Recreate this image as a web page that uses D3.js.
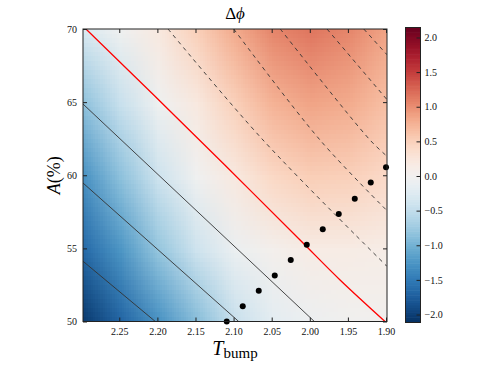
<!DOCTYPE html>
<html>
<head>
<meta charset="utf-8">
<script src="https://cdn.jsdelivr.net/npm/d3@7"></script>
<style>
	body { margin: 0; background: #fff; }
	svg { display: block; font-family: "Liberation Serif", "DejaVu Serif", serif; }
</style>
</head>
<body>
<div id="chart"></div>
<script>
// tick labels
const xTicks = [2.25, 2.20, 2.15, 2.10, 2.05, 2.00, 1.95, 1.90]
const yTicks = [50, 55, 60, 65, 70]
const cbTicks = [-2.0, -1.5, -1.0, -0.5, 0.0, 0.5, 1.0, 1.5, 2.0]

// delta phi, rows = A (top to bottom), cols = T_bump
const gridT = [2.30, 2.25, 2.20, 2.15, 2.10, 2.05, 2.00, 1.95, 1.90]
const gridA = [70, 65, 60, 55, 50]
const dphi = [
	[-0.3, -0.05, 0.2, 0.5, 0.8, 1.05, 1.15, 1.05, 0.85],
	[-0.85, -0.45, -0.05, 0.2, 0.5, 0.75, 0.85, 0.8, 0.65],
	[-1.3, -0.85, -0.4, -0.03, 0.2, 0.42, 0.52, 0.5, 0.4],
	[-1.65, -1.25, -0.8, -0.4, -0.1, 0.05, 0.15, 0.15, 0.12],
	[-2.05, -1.7, -1.3, -0.9, -0.45, -0.2, -0.08, -0.02, 0.0]
]
const cMin = -2.115
const cMax = 2.144

// black points
const dotT = [2.109, 2.088, 2.067, 2.046, 2.025, 2.004, 1.983, 1.962, 1.941, 1.920, 1.900]
const dotA = [50.0, 51.05, 52.1, 53.15, 54.2, 55.25, 56.3, 57.35, 58.4, 59.5, 60.55]

// contour lines as [T, A] points
const redLine = [[2.2937, 70.0], [2.2031, 65.4], [2.1112, 60.68], [2.0128, 55.57], [1.9603, 52.84], [1.9013, 50.0]]
const solidLines = [
	[[2.2976, 64.87], [1.994, 50.0]],
	[[2.2976, 59.47], [2.0933, 50.0]],
	[[2.2976, 54.12], [2.2027, 50.0]]
]
const dashedLines = [
	[[2.186, 70.0], [2.0614, 62.41], [1.8987, 53.77]],
	[[2.0998, 70.0], [1.9866, 62.41], [1.8987, 57.58]],
	[[2.0387, 70.0], [1.921, 62.41], [1.8987, 61.3]],
	[[1.9774, 70.0], [1.8987, 65.17]],
	[[1.9292, 70.0], [1.8987, 68.24]]
]

const W = 491
const H = 368
const pLeft = 83, pRight = 387, pTop = 29, pBottom = 321.5

const svg = d3.select("#chart").append("svg").attr("width", W).attr("height", H)

const x = d3.scaleLinear().domain([2.2976, 1.8987]).range([pLeft, pRight])
const y = d3.scaleLinear().domain([50, 70]).range([pBottom, pTop])
const color = d3.scaleSequential(d3.interpolateRdBu).domain([cMax, cMin])

svg.append("clipPath").attr("id", "plotclip")
	.append("rect").attr("x", pLeft).attr("y", pTop).attr("width", pRight - pLeft).attr("height", pBottom - pTop)

// heatmap: one pixel per grid value, smoothed by the browser when scaled up
const canvas = document.createElement("canvas")
canvas.width = gridT.length
canvas.height = gridA.length
const ctx = canvas.getContext("2d")
dphi.forEach((row, j) => {
	row.forEach((v, i) => {
		ctx.fillStyle = color(v)
		ctx.fillRect(i, j, 1, 1)
	})
})
const cw = Math.abs(x(gridT[1]) - x(gridT[0]))
const ch = Math.abs(y(gridA[1]) - y(gridA[0]))
svg.append("g").attr("clip-path", "url(#plotclip)")
	.append("image")
	.attr("href", canvas.toDataURL())
	.attr("x", x(gridT[0]) - cw / 2)
	.attr("y", y(gridA[0]) - ch / 2)
	.attr("width", cw * gridT.length)
	.attr("height", ch * gridA.length)
	.attr("preserveAspectRatio", "none")

const line = d3.line().x(d => x(d[0])).y(d => y(d[1])).curve(d3.curveCatmullRom)

const lines = svg.append("g").attr("clip-path", "url(#plotclip)").attr("fill", "none")
lines.selectAll("path.solid").data(solidLines).enter().append("path")
	.attr("class", "solid")
	.attr("d", line)
	.attr("stroke", "#333")
	.attr("stroke-width", 0.9)
lines.selectAll("path.dashed").data(dashedLines).enter().append("path")
	.attr("class", "dashed")
	.attr("d", line)
	.attr("stroke", "#333")
	.attr("stroke-width", 0.9)
	.attr("stroke-dasharray", "4,4")
lines.append("path")
	.attr("d", line(redLine))
	.attr("stroke", "#ff0000")
	.attr("stroke-width", 1.3)

svg.append("g").selectAll("circle").data(dotT).enter().append("circle")
	.attr("cx", d => x(d))
	.attr("cy", (d, i) => y(dotA[i]))
	.attr("r", 3)
	.attr("fill", "#000")

// axes, ticks pointing inward on all sides
const fmtX = d3.format(".2f")
const axB = svg.append("g").attr("transform", `translate(0,${pBottom})`)
	.call(d3.axisBottom(x).tickValues(xTicks).tickFormat(fmtX).tickSize(-4).tickPadding(6))
const axT = svg.append("g").attr("transform", `translate(0,${pTop})`)
	.call(d3.axisTop(x).tickValues(xTicks).tickFormat("").tickSize(-4))
const axL = svg.append("g").attr("transform", `translate(${pLeft},0)`)
	.call(d3.axisLeft(y).tickValues(yTicks).tickFormat(d3.format("d")).tickSize(-4).tickPadding(6))
const axR = svg.append("g").attr("transform", `translate(${pRight},0)`)
	.call(d3.axisRight(y).tickValues(yTicks).tickFormat("").tickSize(-4))
;[axB, axT, axL, axR].forEach(a => {
	a.select(".domain").remove()
	a.selectAll("line").attr("stroke", "#222")
	a.selectAll("text").attr("font-family", "Liberation Serif, DejaVu Serif, serif").attr("font-size", 10).attr("fill", "#111")
})

svg.append("rect")
	.attr("x", pLeft).attr("y", pTop).attr("width", pRight - pLeft).attr("height", pBottom - pTop)
	.attr("fill", "none").attr("stroke", "#222").attr("stroke-width", 1)

// colorbar
const cbLeft = 405.5, cbW = 15
const cy = d3.scaleLinear().domain([cMin, cMax]).range([322.5, 27.5])
const nSteps = 120
const steps = d3.range(nSteps).map(i => cMin + (i + 0.5) * (cMax - cMin) / nSteps)
const stepH = (cy(cMin) - cy(cMax)) / nSteps
svg.append("g").selectAll("rect").data(steps).enter().append("rect")
	.attr("x", cbLeft)
	.attr("y", d => cy(d) - stepH / 2 - 0.3)
	.attr("width", cbW)
	.attr("height", stepH + 0.6)
	.attr("fill", d => color(d))
svg.append("rect")
	.attr("x", cbLeft).attr("y", cy(cMax)).attr("width", cbW).attr("height", cy(cMin) - cy(cMax))
	.attr("fill", "none").attr("stroke", "#222").attr("stroke-width", 1)
const cbAxis = svg.append("g").attr("transform", `translate(${cbLeft + cbW},0)`)
	.call(d3.axisRight(cy).tickValues(cbTicks).tickFormat(d => d3.format(".1f")(d).replace("-", "\u2212")).tickSize(-4).tickPadding(4))
cbAxis.select(".domain").remove()
cbAxis.selectAll("line").attr("stroke", "#222")
cbAxis.selectAll("text").attr("font-family", "Liberation Serif, DejaVu Serif, serif").attr("font-size", 10).attr("fill", "#111")

// labels
const title = svg.append("text")
	.attr("x", (pLeft + pRight) / 2).attr("y", 19)
	.attr("text-anchor", "middle").attr("font-size", 17)
title.append("tspan").text("\u0394")
title.append("tspan").attr("font-style", "italic").text("\u03d5")

const xLabel = svg.append("text")
	.attr("x", (pLeft + pRight) / 2).attr("y", 355)
	.attr("text-anchor", "middle").attr("font-size", 20)
xLabel.append("tspan").attr("font-style", "italic").text("T")
xLabel.append("tspan").attr("font-size", 15).attr("dy", 3).text("bump")

const yLabel = svg.append("text")
	.attr("transform", `translate(60,${(pTop + pBottom) / 2}) rotate(-90)`)
	.attr("text-anchor", "middle").attr("font-size", 18)
yLabel.append("tspan").attr("font-style", "italic").text("A")
yLabel.append("tspan").text("(%)")
</script>
</body>
</html>
